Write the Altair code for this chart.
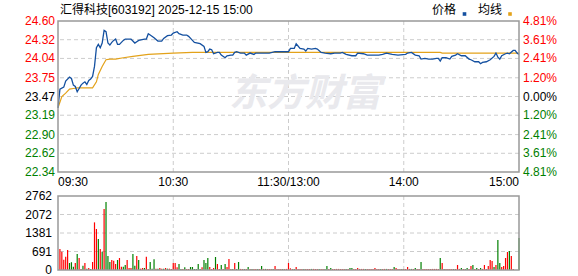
import altair as alt
import pandas as pd

# ---------------- data ----------------
TITLE = "汇得科技[603192] 2025-12-15 15:00"
PREV_CLOSE = 23.47

PRICE_TICKS = [24.60, 24.32, 24.04, 23.75, 23.47, 23.19, 22.90, 22.62, 22.34]
PRICE_LABELS = ["24.60", "24.32", "24.04", "23.75", "23.47", "23.19", "22.90", "22.62", "22.34"]
PCT_LABELS = ["4.81%", "3.61%", "2.41%", "1.20%", "0.00%", "1.20%", "2.41%", "3.61%", "4.81%"]

VOL_TICKS = [2762, 2071.5, 1381, 690.5, 0]
VOL_LABELS = ["2762", "2072", "1381", "691", "0"]

TIME_TICKS = [0, 60, 120, 180, 240]
TIME_LABELS = ["09:30", "10:30", "11:30/13:00", "14:00", "15:00"]

price_minute = [0, 1, 3, 4, 6, 7, 8, 9, 10, 11, 12, 13, 14, 15, 16, 17, 18, 19, 20, 21,
                22, 23, 24, 25, 26, 27, 28, 29, 30, 31, 32, 33, 34, 35, 37, 38, 40, 41, 42, 45,
                46, 47, 48, 50, 52, 54, 55, 57, 59, 60, 62, 63, 65, 67, 68, 70, 71, 74, 76, 77,
                78, 79, 80, 81, 83, 84, 85, 87, 88, 90, 91, 92, 93, 95, 97, 98, 100, 102, 103, 107,
                110, 113, 116, 120, 121, 123, 124, 126, 128, 129, 130, 132, 134, 135, 137, 139, 142, 144, 147, 148,
                150, 153, 155, 156, 159, 161, 167, 169, 171, 174, 177, 181, 182, 184, 186, 188, 189, 191, 193, 195,
                197, 198, 199, 200, 202, 204, 205, 207, 208, 210, 212, 214, 215, 217, 219, 220, 221, 223, 225, 227,
                228, 229, 230, 231, 233, 234, 235, 237, 238, 239, 240]
price_value = [23.30, 23.58, 23.61, 23.70, 23.76, 23.74, 23.64, 23.62, 23.54, 23.59, 23.64, 23.67, 23.69, 23.65, 23.71, 23.73, 23.77, 23.92, 24.20, 24.25,
               24.20, 24.27, 24.46, 24.44, 24.27, 24.24, 24.28, 24.31, 24.33, 24.25, 24.25, 24.28, 24.31, 24.33, 24.33, 24.33, 24.27, 24.29, 24.31, 24.33,
               24.33, 24.41, 24.39, 24.35, 24.30, 24.30, 24.34, 24.38, 24.39, 24.42, 24.44, 24.41, 24.39, 24.39, 24.37, 24.31, 24.28, 24.26, 24.22, 24.13,
               24.14, 24.18, 24.17, 24.11, 24.13, 24.13, 24.09, 24.05, 24.08, 24.09, 24.09, 24.13, 24.14, 24.12, 24.12, 24.09, 24.12, 24.10, 24.12, 24.12,
               24.12, 24.14, 24.14, 24.14, 24.19, 24.19, 24.26, 24.19, 24.18, 24.15, 24.19, 24.18, 24.19, 24.18, 24.13, 24.12, 24.11, 24.12, 24.12, 24.13,
               24.10, 24.08, 24.08, 24.12, 24.11, 24.09, 24.09, 24.10, 24.12, 24.10, 24.09, 24.10, 24.12, 24.13, 24.09, 24.08, 24.03, 24.04, 24.03, 24.03,
               24.04, 24.04, 24.00, 24.05, 24.05, 24.03, 24.07, 24.09, 24.11, 24.08, 24.08, 24.03, 24.02, 23.99, 23.99, 23.96, 23.98, 23.99, 24.02, 24.07,
               24.12, 24.06, 24.03, 24.08, 24.11, 24.12, 24.11, 24.16, 24.16, 24.12, 24.10]

avg_minute = [0, 2, 4, 6, 8, 10, 18, 20, 21, 23, 25, 27, 30, 34, 39, 47, 60, 70, 199, 200, 240]
avg_value = [23.30, 23.47, 23.52, 23.58, 23.59, 23.60, 23.60, 23.69, 23.80, 23.92, 24.02, 24.03, 24.03, 24.05, 24.07, 24.10, 24.12, 24.13, 24.13, 24.12, 24.12]

# volume for minutes 1..240, with direction (r = up, g = down)
vol_value = [783, 684, 385, 497, 746, 261, 290, 124, 261, 597, 448, 40, 160, 261, 50, 75, 40, 298, 1778, 1530,
             1156, 783, 684, 2275, 2536, 522, 298, 373, 348, 224, 373, 448, 124, 124, 186, 373, 75, 75, 597, 160,
             522, 373, 50, 75, 75, 497, 40, 298, 50, 398, 50, 50, 75, 50, 50, 75, 50, 50, 40, 261,
             261, 100, 224, 40, 40, 100, 40, 40, 112, 112, 40, 40, 224, 40, 100, 373, 261, 448, 112, 40,
             75, 485, 224, 40, 186, 40, 224, 112, 410, 40, 40, 261, 40, 298, 40, 40, 40, 40, 112, 40,
             40, 40, 40, 40, 40, 149, 40, 40, 40, 40, 40, 40, 149, 40, 40, 40, 40, 40, 40, 261,
             62, 40, 40, 112, 40, 40, 40, 40, 40, 40, 40, 40, 40, 40, 40, 40, 40, 40, 40, 149,
             40, 75, 40, 40, 40, 40, 40, 40, 40, 40, 40, 75, 75, 40, 40, 75, 40, 40, 40, 40,
             40, 40, 40, 40, 75, 40, 40, 40, 40, 40, 40, 40, 40, 40, 112, 75, 40, 40, 40, 40,
             40, 112, 40, 40, 40, 75, 40, 40, 298, 40, 40, 40, 40, 40, 40, 40, 40, 40, 448, 261,
             40, 40, 40, 40, 40, 40, 40, 186, 40, 75, 40, 40, 75, 40, 149, 186, 40, 75, 40, 75,
             40, 186, 40, 149, 373, 336, 112, 186, 1119, 261, 112, 149, 448, 671, 709, 522, 40, 0, 0, 1193]
vol_dir = ("rrrrrgggrgrrgrgrgrrr" "grgrgggrrrgrrggrrrgg" "rgrrgrrgggrgrrgrgrrr"
           "rrggrgrrggggggrgggrr" "rgrrgrgrrrgrggrrgrgr" "grrgrgrgrrrgrrrrgrrr"
           "rrgrrrrgrrrgrrrgrrgg" "rgrrrrrrrgrggrrrrrrg" "rrrrrrrgrrgrrrgrrrgr"
           "rrrgrgrrgrrrrrrrrrgr" "grrrrgrrrgrggrrgrgrg" "rrrrrrgrggrrrrgrrrrg")

# ---------------- tables ----------------
UP, DOWN, FLAT = "#ff0000", "#008000", "#000000"
FONT = "Liberation Sans, Noto Sans CJK SC"

def pcolor(v):
    return UP if v > PREV_CLOSE + 1e-9 else (DOWN if v < PREV_CLOSE - 1e-9 else FLAT)

price_df = pd.DataFrame({"m": price_minute, "p": price_value})
avg_df = pd.DataFrame({"m": avg_minute, "p": avg_value})
vol_df = pd.DataFrame({"m": list(range(1, 1 + len(vol_value))), "v": vol_value,
                       "d": list(vol_dir[:len(vol_value)])})
ptick_df = pd.DataFrame({"v": PRICE_TICKS, "lab": PRICE_LABELS, "pct": PCT_LABELS,
                         "c": [pcolor(v) for v in PRICE_TICKS]})
vtick_df = pd.DataFrame({"v": VOL_TICKS, "lab": VOL_LABELS})
time_df = pd.DataFrame({"t": TIME_TICKS, "lab": TIME_LABELS,
                        "al": ["left", "center", "center", "center", "right"]})
frame_df = pd.DataFrame({"x0": [0, 0], "x1": [240, 240],
                         "y0": [22.34, 0], "y1": [24.60, 2762], "panel": ["price", "vol"]})

W, H = 461, 249
X = alt.Scale(domain=[0, 240], nice=False, zero=False)
PY = alt.Scale(domain=[22.34, 24.60], range=[151, 0], nice=False, zero=False)
VY = alt.Scale(domain=[0, 2762], range=[249, 175], nice=False, zero=False)
GRID = dict(color="#cccccc", strokeDash=[4, 3], strokeWidth=1)

# grids
pgrid = alt.Chart(ptick_df).transform_filter("datum.v < 24.5 && datum.v > 22.4").mark_rule(**GRID).encode(
    y=alt.Y("v:Q", scale=PY, axis=None))
vgrid = alt.Chart(vtick_df).transform_filter("datum.v > 0 && datum.v < 2762").mark_rule(**GRID).encode(
    y=alt.Y("v:Q", scale=VY, axis=None))
tgrid_p = alt.Chart(time_df).transform_filter("datum.t > 0 && datum.t < 240").mark_rule(**GRID).encode(
    x=alt.X("t:Q", scale=X, axis=None), y=alt.YDatum(24.60, scale=PY, axis=None), y2=alt.Y2Datum(22.34))
tgrid_v = alt.Chart(time_df).transform_filter("datum.t > 0 && datum.t < 240").mark_rule(**GRID).encode(
    x=alt.X("t:Q", scale=X, axis=None), y=alt.YDatum(2762, scale=VY, axis=None), y2=alt.Y2Datum(0))

# frames
frame_p = alt.Chart(frame_df).transform_filter("datum.panel == 'price'").mark_rect(
    fillOpacity=0, stroke="#999999", strokeWidth=1.5).encode(
    x=alt.X("x0:Q", scale=X, axis=None), x2="x1:Q",
    y=alt.Y("y0:Q", scale=PY, axis=None), y2="y1:Q")
frame_v = alt.Chart(frame_df).transform_filter("datum.panel == 'vol'").mark_rect(
    fillOpacity=0, stroke="#999999", strokeWidth=1.5).encode(
    x=alt.X("x0:Q", scale=X, axis=None), x2="x1:Q",
    y=alt.Y("y0:Q", scale=VY, axis=None), y2="y1:Q")

# watermark
water = alt.Chart(pd.DataFrame({"w": ["东方财富"]})).mark_text(
    font="Noto Sans CJK SC", fontSize=38, fontWeight="bold", fontStyle="italic",
    color="#e9e9ed", align="center", baseline="middle").encode(
    text="w:N", x=alt.value(247), y=alt.value(74))

# volume bars
vbars = alt.Chart(vol_df).mark_rule(strokeWidth=1.2).encode(
    x=alt.X("m:Q", scale=X, axis=None),
    y=alt.Y("v:Q", scale=VY, axis=None), y2=alt.Y2Datum(0),
    color=alt.Color("d:N", scale=alt.Scale(domain=["r", "g"], range=[UP, DOWN]), legend=None))

# lines
avg_line = alt.Chart(avg_df).mark_line(color="#e3a21a", strokeWidth=1.2).encode(
    x=alt.X("m:Q", scale=X, axis=None), y=alt.Y("p:Q", scale=PY, axis=None))
price_line = alt.Chart(price_df).mark_line(color="#1450a0", strokeWidth=1.3).encode(
    x=alt.X("m:Q", scale=X, axis=None), y=alt.Y("p:Q", scale=PY, axis=None))

# labels
TXT = dict(font=FONT, fontSize=12, baseline="middle")
left_lab = alt.Chart(ptick_df).mark_text(align="right", **TXT).encode(
    x=alt.value(-3), y=alt.Y("v:Q", scale=PY, axis=None), text="lab:N",
    color=alt.Color("c:N", scale=None))
right_lab = alt.Chart(ptick_df).mark_text(align="left", **TXT).encode(
    x=alt.value(W + 4), y=alt.Y("v:Q", scale=PY, axis=None), text="pct:N",
    color=alt.Color("c:N", scale=None))
vol_lab = alt.Chart(vtick_df).mark_text(align="right", color="#000000", **TXT).encode(
    x=alt.value(-6), y=alt.Y("v:Q", scale=VY, axis=None), text="lab:N")

time_layers = []
for al in ["left", "center", "right"]:
    time_layers.append(
        alt.Chart(time_df).transform_filter(f"datum.al == '{al}'").mark_text(
            align=al, color="#000000", **TXT).encode(
            x=alt.X("t:Q", scale=X, axis=None), y=alt.value(161), text="lab:N"))

title = alt.Chart(pd.DataFrame({"t": [TITLE]})).mark_text(
    align="left", color="#000000", **TXT).encode(text="t:N", x=alt.value(2), y=alt.value(-11))

legend_df = pd.DataFrame({"lab": ["价格", "均线"], "col": ["#1450a0", "#e3a21a"],
                          "tx": [374, 420], "sx": [406.5, 452]})
leg_txt = alt.Chart(legend_df).mark_text(align="left", color="#000000", **TXT).encode(
    text="lab:N", x=alt.X("tx:Q", scale=None), y=alt.value(-11))
leg_sq = alt.Chart(legend_df).mark_square(size=13, opacity=1).encode(
    x=alt.X("sx:Q", scale=None), y=alt.value(-7), color=alt.Color("col:N", scale=None))

chart = alt.layer(
    pgrid, vgrid, tgrid_p, tgrid_v, water, vbars, avg_line, price_line,
    frame_p, frame_v, left_lab, right_lab, vol_lab, *time_layers, title, leg_txt, leg_sq
).resolve_scale(y="independent", color="independent").properties(
    width=W, height=H,
    autosize=alt.AutoSizeParams(type="none"),
    padding={"left": 58, "top": 21, "right": 59, "bottom": 6},
    background="#ffffff",
).configure_view(stroke=None)

chart.save("out.html", embed_options={"renderer": "svg", "actions": False})
